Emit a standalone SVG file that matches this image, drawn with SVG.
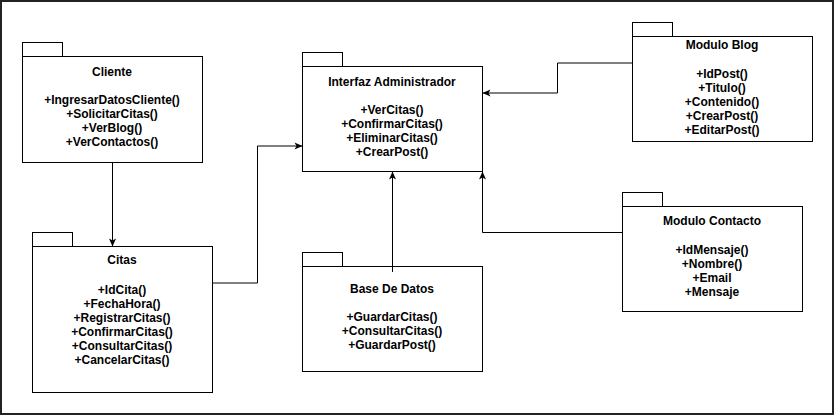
<svg xmlns="http://www.w3.org/2000/svg" width="834" height="415" viewBox="0 0 834 415">
<style>
.box{fill:#fff;stroke:#000;stroke-width:1}
.t{font-family:"Liberation Sans",Arial,sans-serif;font-size:12px;font-weight:bold;fill:#000;text-anchor:middle}
.c{fill:none;stroke:#000;stroke-width:1}
</style>
<defs>
<marker id="arr" markerUnits="userSpaceOnUse" markerWidth="10" markerHeight="9" refX="8" refY="3.5" orient="auto" overflow="visible">
<path d="M0,0 L8,3.5 L0,7 L2,3.5 z" fill="#000"/>
</marker>
</defs>
<rect x="0" y="0" width="834" height="415" fill="#fff"/>
<rect x="1" y="1" width="832" height="413" fill="none" stroke="#222" stroke-width="2"/>

<g id="connectors">
<path class="c" d="M112.5,162.5 V246.5" marker-end="url(#arr)"/>
<path class="c" d="M212.5,283 H257.5 V146 H302.5" marker-end="url(#arr)"/>
<path class="c" d="M632.5,63 H557.5 V93 H482.5" marker-end="url(#arr)"/>
<path class="c" d="M622.5,232.5 H482.5 V171.5" marker-end="url(#arr)"/>
<path class="c" d="M392.5,272 V171.5" marker-end="url(#arr)"/>
</g>

<g id="cliente">
<rect class="box" x="22.5" y="42.5" width="40" height="14"/>
<rect class="box" x="22.5" y="56.5" width="180" height="106"/>
<text class="t" x="112" y="76">Cliente</text>
<text class="t" x="112" y="104">+IngresarDatosCliente()</text>
<text class="t" x="112" y="118">+SolicitarCitas()</text>
<text class="t" x="112" y="132">+VerBlog()</text>
<text class="t" x="112" y="146">+VerContactos()</text>
</g>

<g id="interfaz">
<rect class="box" x="302.5" y="52.5" width="40" height="14"/>
<rect class="box" x="302.5" y="66.5" width="180" height="105"/>
<text class="t" x="392" y="86">Interfaz Administrador</text>
<text class="t" x="392" y="114">+VerCitas()</text>
<text class="t" x="392" y="128">+ConfirmarCitas()</text>
<text class="t" x="392" y="142">+EliminarCitas()</text>
<text class="t" x="392" y="156">+CrearPost()</text>
</g>

<g id="blog">
<rect class="box" x="632.5" y="22.5" width="40" height="14"/>
<rect class="box" x="632.5" y="36.5" width="180" height="105"/>
<text class="t" x="722" y="48.5">Modulo Blog</text>
<text class="t" x="722" y="77.5">+IdPost()</text>
<text class="t" x="722" y="91.5">+Titulo()</text>
<text class="t" x="722" y="105.5">+Contenido()</text>
<text class="t" x="722" y="119.5">+CrearPost()</text>
<text class="t" x="722" y="133.5">+EditarPost()</text>
</g>

<g id="citas">
<rect class="box" x="32.5" y="232.5" width="40" height="14"/>
<rect class="box" x="32.5" y="246.5" width="180" height="146"/>
<text class="t" x="122" y="264">Citas</text>
<text class="t" x="122" y="294">+IdCita()</text>
<text class="t" x="122" y="308">+FechaHora()</text>
<text class="t" x="122" y="322">+RegistrarCitas()</text>
<text class="t" x="122" y="336">+ConfirmarCitas()</text>
<text class="t" x="122" y="350">+ConsultarCitas()</text>
<text class="t" x="122" y="364">+CancelarCitas()</text>
</g>

<g id="basedatos">
<rect class="box" x="302.5" y="252.5" width="40" height="14"/>
<rect class="box" x="302.5" y="266.5" width="180" height="105"/>
<text class="t" x="392" y="293">Base De Datos</text>
<text class="t" x="392" y="321">+GuardarCitas()</text>
<text class="t" x="392" y="335">+ConsultarCitas()</text>
<text class="t" x="392" y="349">+GuardarPost()</text>
</g>

<g id="contacto">
<rect class="box" x="622.5" y="192.5" width="40" height="14"/>
<rect class="box" x="622.5" y="206.5" width="180" height="105"/>
<text class="t" x="712" y="225">Modulo Contacto</text>
<text class="t" x="712" y="254">+IdMensaje()</text>
<text class="t" x="712" y="268">+Nombre()</text>
<text class="t" x="712" y="282">+Email</text>
<text class="t" x="712" y="296">+Mensaje</text>
</g>

<path class="c" d="M392.5,266.5 V272"/>
</svg>
